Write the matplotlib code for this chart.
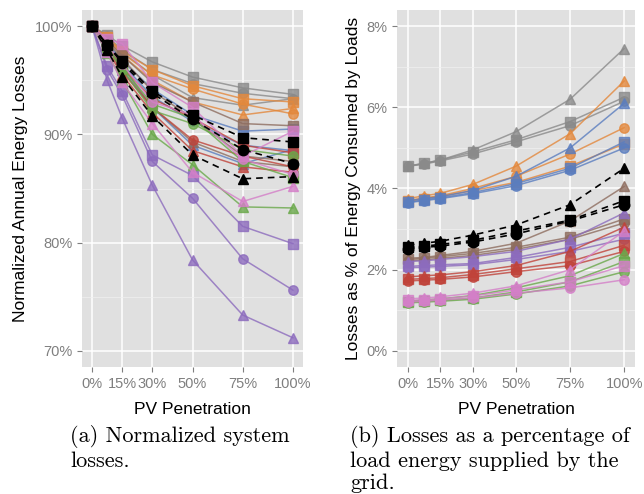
import numpy as np
import matplotlib
matplotlib.use("Agg")
from matplotlib import pyplot as plt
from matplotlib.ticker import MultipleLocator

# PV penetration levels (%)
pv = [0, 7.5, 15, 30, 50, 75, 100]
pv_ticks = [0, 15, 30, 50, 75, 100]
pv_labels = ["0%", "15%", "30%", "50%", "75%", "100%"]

# (a) normalized annual energy losses (%), each group: circle, square, triangle
norm_grey = [[100, 99.1, 97.8, 96.0, 94.7, 93.8, 93.3],
             [100, 99.2, 98.2, 96.7, 95.3, 94.3, 93.7],
             [100, 99.0, 97.6, 95.5, 93.4, 92.7, 93.3]]
norm_orange = [[100, 98.9, 97.5, 95.5, 94.2, 92.8, 91.9],
               [100, 99.0, 97.7, 96.0, 94.5, 93.3, 93.0],
               [100, 98.8, 97.3, 95.0, 93.0, 91.8, 92.4]]
norm_blue = [[100, 98.4, 96.5, 93.5, 91.2, 89.0, 88.5],
             [100, 98.5, 96.8, 94.2, 91.8, 90.3, 90.5],
             [100, 98.2, 96.0, 92.5, 89.0, 87.3, 88.6]]
norm_brown = [[100, 98.6, 97.0, 94.0, 91.5, 88.0, 87.5],
              [100, 98.7, 97.3, 94.8, 93.0, 91.0, 90.8],
              [100, 98.3, 96.3, 92.5, 89.3, 87.5, 87.0]]
norm_purple = [[100, 96.0, 93.6, 87.5, 84.1, 78.5, 75.6],
               [100, 96.3, 94.0, 88.1, 86.2, 81.5, 79.9],
               [100, 95.0, 91.5, 85.3, 78.4, 73.3, 71.2]]
norm_red = [[100, 98.0, 95.8, 92.5, 89.5, 88.0, 87.0],
            [100, 98.2, 96.2, 93.3, 91.5, 89.0, 88.3],
            [100, 97.8, 95.5, 92.0, 88.5, 87.0, 86.5]]
norm_green = [[100, 98.0, 96.0, 92.2, 91.0, 88.6, 88.0],
              [100, 98.1, 96.2, 92.8, 91.5, 87.5, 86.0],
              [100, 97.5, 95.0, 90.0, 87.2, 83.3, 83.2]]
norm_pink = [[100, 98.3, 96.5, 93.0, 91.8, 87.7, 86.3],
             [100, 98.8, 98.4, 94.8, 92.5, 88.0, 90.3],
             [100, 97.6, 94.8, 91.0, 86.5, 83.8, 85.2]]
norm_black = [[100, 98.3, 96.6, 93.8, 91.4, 88.6, 87.3],
              [100, 98.3, 96.8, 94.0, 91.8, 89.7, 89.3],
              [100, 97.8, 95.3, 91.7, 88.1, 85.9, 86.1]]

# (b) losses as % of energy consumed by loads
pct_grey = [[4.55, 4.60, 4.68, 4.85, 5.15, 5.55, 6.15],
            [4.55, 4.62, 4.70, 4.90, 5.20, 5.65, 6.25],
            [4.55, 4.62, 4.70, 4.95, 5.40, 6.20, 7.45]]
pct_orange = [[3.70, 3.77, 3.82, 4.00, 4.30, 4.85, 5.50],
              [3.68, 3.75, 3.80, 3.95, 4.15, 4.55, 5.10],
              [3.75, 3.82, 3.88, 4.10, 4.55, 5.35, 6.65]]
pct_blue = [[3.65, 3.70, 3.75, 3.87, 4.07, 4.45, 5.00],
            [3.66, 3.72, 3.77, 3.90, 4.12, 4.50, 5.15],
            [3.70, 3.75, 3.80, 3.95, 4.30, 5.00, 6.10]]
pct_brown = [[2.22, 2.24, 2.28, 2.35, 2.50, 2.75, 3.15],
             [2.25, 2.28, 2.32, 2.40, 2.55, 2.80, 3.25],
             [2.28, 2.30, 2.35, 2.45, 2.65, 3.20, 4.05]]
pct_purple = [[2.05, 2.06, 2.08, 2.12, 2.25, 2.45, 2.75],
              [2.08, 2.10, 2.12, 2.15, 2.30, 2.55, 2.90],
              [2.20, 2.22, 2.25, 2.32, 2.45, 2.75, 3.40]]
pct_red = [[1.72, 1.74, 1.76, 1.82, 1.95, 2.10, 2.45],
           [1.76, 1.78, 1.80, 1.88, 2.02, 2.20, 2.60],
           [1.82, 1.85, 1.87, 1.95, 2.10, 2.45, 3.05]]
pct_green = [[1.18, 1.20, 1.22, 1.27, 1.40, 1.60, 1.95],
             [1.20, 1.22, 1.24, 1.30, 1.45, 1.70, 2.20],
             [1.22, 1.25, 1.28, 1.36, 1.55, 1.85, 2.40]]
pct_pink = [[1.20, 1.22, 1.25, 1.30, 1.42, 1.55, 1.75],
            [1.24, 1.26, 1.28, 1.35, 1.50, 1.70, 2.10],
            [1.28, 1.30, 1.33, 1.42, 1.60, 2.00, 2.95]]
pct_black = [[2.52, 2.55, 2.58, 2.68, 2.88, 3.20, 3.60],
             [2.55, 2.58, 2.62, 2.72, 2.95, 3.22, 3.70],
             [2.60, 2.65, 2.70, 2.85, 3.10, 3.60, 4.50]]

colors = {"grey": "#8a8a8a", "orange": "#e3883c", "blue": "#5a7dbf",
          "brown": "#8e6d5f", "purple": "#8c6bbd", "red": "#c0433a",
          "green": "#6aa84a", "pink": "#d47fc8"}
shapes = ["o", "s", "^"]

norm_groups = [("grey", norm_grey), ("orange", norm_orange), ("blue", norm_blue),
               ("brown", norm_brown), ("purple", norm_purple), ("red", norm_red),
               ("green", norm_green), ("pink", norm_pink)]
pct_groups = [("grey", pct_grey), ("orange", pct_orange), ("blue", pct_blue),
              ("brown", pct_brown), ("purple", pct_purple), ("red", pct_red),
              ("green", pct_green), ("pink", pct_pink)]

fig = plt.figure(figsize=(6.44, 4.94), dpi=100)
W, H = 644.0, 494.0


def style(ax):
    ax.set_facecolor("#e0e0e0")
    for s in ax.spines.values():
        s.set_visible(False)
    ax.grid(which="major", color="white", lw=1.1)
    ax.grid(which="minor", axis="y", color="#f0f0f0", lw=0.5)
    ax.set_axisbelow(True)
    ax.tick_params(which="major", length=3.5, width=0.8, color="#7f7f7f",
                   labelcolor="#7f7f7f", labelsize=10.5)
    ax.tick_params(which="minor", length=0)
    ax.set_xticks(pv_ticks)
    ax.set_xticklabels(pv_labels)
    ax.set_xlim(-5, 105)
    ax.set_xlabel("PV Penetration", fontsize=12.5, labelpad=8)


def draw(ax, groups, black):
    for name, series in groups:
        for vals, m in zip(series, shapes):
            ax.plot(pv, vals, color=colors[name], marker=m, ms=6.8, lw=1.1,
                    alpha=0.8, mec=colors[name])
    for vals, m in zip(black, shapes):
        ax.plot(pv, vals, color="black", marker=m, ms=7.5, lw=1.2, ls=(0, (4, 3)))


ax1 = fig.add_axes([82 / W, 1 - 367 / H, 221 / W, 357 / H])
style(ax1)
draw(ax1, norm_groups, norm_black)
ax1.set_ylim(68.5, 101.5)
ax1.set_yticks([70, 80, 90, 100])
ax1.set_yticklabels(["70%", "80%", "90%", "100%"])
ax1.yaxis.set_minor_locator(MultipleLocator(5))
ax1.set_ylabel("Normalized Annual Energy Losses", fontsize=12.5, labelpad=5)

ax2 = fig.add_axes([397 / W, 1 - 367 / H, 238 / W, 357 / H])
style(ax2)
draw(ax2, pct_groups, pct_black)
ax2.set_ylim(-0.4, 8.4)
ax2.set_yticks([0, 2, 4, 6, 8])
ax2.set_yticklabels(["0%", "2%", "4%", "6%", "8%"])
ax2.yaxis.set_minor_locator(MultipleLocator(1))
ax2.set_ylabel("Losses as % of Energy Consumed by Loads", fontsize=12.5, labelpad=4)

for label in ax1.get_xticklabels() + ax1.get_yticklabels() + \
        ax2.get_xticklabels() + ax2.get_yticklabels():
    label.set_family("Liberation Sans")
for a in (ax1, ax2):
    a.xaxis.label.set_family("Liberation Sans")
    a.yaxis.label.set_family("Liberation Sans")

fig.text(70 / W, 1 - 425 / H, "(a) Normalized system\nlosses.", family="cmr10",
         fontsize=16, va="top", ha="left", linespacing=1.2)
fig.text(350 / W, 1 - 425 / H, "(b) Losses as a percentage of\nload energy supplied by the\ngrid.",
         family="cmr10", fontsize=16, va="top", ha="left", linespacing=1.2)

fig.savefig("out.png", dpi=100)
